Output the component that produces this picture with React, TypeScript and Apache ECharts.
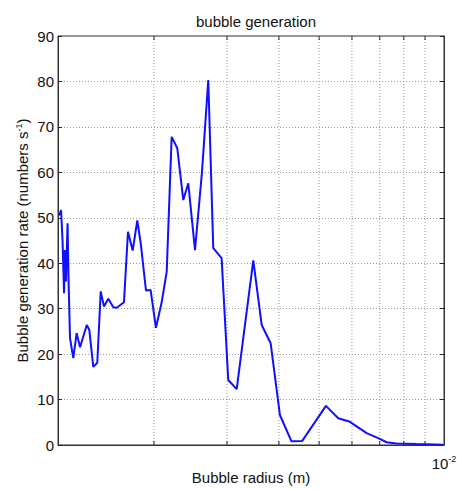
import React, { useEffect, useRef } from "react";
import * as echarts from "echarts";

// Bubble radius (m)
const radius = [
  0.001181, 0.001194, 0.001204, 0.001214, 0.00122, 0.001227, 0.001238, 0.001245,
  0.001255, 0.001278, 0.001302, 0.001327, 0.001377, 0.001397, 0.001428, 0.00146,
  0.001488, 0.001515, 0.001552, 0.001596, 0.001626, 0.001693, 0.001731, 0.001777,
  0.001823, 0.001858, 0.001913, 0.001963, 0.002022, 0.002087, 0.002146, 0.002206,
  0.002276, 0.002353, 0.002419, 0.002511, 0.00261, 0.002703, 0.002779, 0.002911,
  0.00302, 0.003165, 0.00347, 0.003636, 0.003821, 0.004023, 0.004289, 0.004553,
  0.005194, 0.00556, 0.005934, 0.006509, 0.006942, 0.007273, 0.007689, 0.00859,
  0.009956,
];
// Bubble generation rate (numbers s^-1)
const rate = [
  50.5, 51.7, 45, 33.4, 42.9, 36, 48.8, 36,
  23.5, 19.1, 24.6, 21.5, 26.4, 25.3, 17.2, 18.1,
  33.8, 30.5, 32.2, 30.3, 30.2, 31.4, 46.9, 42.8,
  49.4, 44.4, 34.0, 34.1, 25.8, 31.4, 38.1, 67.8,
  65.3, 53.9, 57.6, 42.9, 60, 80.3, 43.3, 41.1,
  14.3, 12.3, 40.6, 26.4, 22.4, 6.6, 0.8, 0.9,
  8.6, 5.9, 5.1, 2.6, 1.5, 0.6, 0.35, 0.2,
  0.05,
];
// x extent and minor log grid positions
const xMin = 0.001174;
const xMax = 0.01;
const xGrid = [0.002, 0.003, 0.004, 0.005, 0.006, 0.007, 0.008, 0.009];
const yMin = 0;
const yMax = 90;
const yStep = 10;

const FONT = "'Liberation Sans', Arial, Helvetica, sans-serif";

export default function App() {
  const ref = useRef<HTMLDivElement>(null);
  useEffect(() => {
    if (!ref.current) return;
    const chart = echarts.init(ref.current, null, { renderer: "svg" });
    chart.setOption({
      animation: false,
      backgroundColor: "#fff",
      textStyle: { fontFamily: FONT },
      title: {
        text: "bubble generation",
        left: 251,
        textAlign: "center",
        top: 9,
        textStyle: { fontSize: 15, fontWeight: "normal", color: "#111", fontFamily: FONT },
      },
      grid: {
        left: 58,
        right: 13,
        top: 36,
        bottom: 44,
        outerBoundsMode: "none",
        containLabel: false,
        show: true,
        borderColor: "#333",
        borderWidth: 1,
        backgroundColor: "transparent",
      },
      xAxis: {
        type: "log",
        logBase: 10,
        min: xMin,
        max: xMax,
        name: "Bubble radius (m)",
        nameLocation: "middle",
        nameGap: 25,
        nameMoveOverlap: false,
        nameTextStyle: { fontSize: 15, color: "#111", fontFamily: FONT },
        axisLine: { show: true, lineStyle: { color: "#333" } },
        axisTick: { show: false },
        splitLine: { show: false },
        axisLabel: {
          showMinLabel: false,
          margin: 9,
          color: "#111",
          fontFamily: FONT,
          formatter: (v: number) =>
            Math.abs(v - xMax) < 1e-9 ? "{b|10}{s|-2}" : "",
          rich: {
            b: { fontSize: 15, color: "#111", fontFamily: FONT },
            s: { fontSize: 9, color: "#111", fontFamily: FONT, padding: [0, 0, 9, 0] },
          },
        },
      },
      yAxis: [
        {
          type: "value",
          min: yMin,
          max: yMax,
          interval: yStep,
          name: "Bubble generation rate (numbers s{s|-1})",
          nameLocation: "middle",
          nameGap: 27,
          nameMoveOverlap: false,
          nameTextStyle: {
            fontSize: 15,
            color: "#111",
            fontFamily: FONT,
            rich: {
              s: { fontSize: 9, color: "#111", fontFamily: FONT, padding: [0, 0, 8, 0] },
            },
          },
          axisLine: { show: true, lineStyle: { color: "#333" } },
          axisTick: { show: true, inside: true, length: 4, lineStyle: { color: "#222" } },
          axisLabel: { fontSize: 15, color: "#111", margin: 4, fontFamily: FONT },
          splitLine: { show: true, lineStyle: { type: [1, 2], color: "#9a9a9a", width: 1 } },
        },
        {
          type: "value",
          position: "right",
          min: yMin,
          max: yMax,
          interval: yStep,
          axisLine: { show: true, lineStyle: { color: "#333" } },
          axisTick: { show: true, inside: true, length: 4, lineStyle: { color: "#222" } },
          axisLabel: { show: false },
          splitLine: { show: false },
        },
      ],
      series: [
        {
          type: "custom",
          silent: true,
          z: 1,
          data: xGrid.map((x) => [x, yMin]),
          encode: { x: 0, y: 1 },
          renderItem: (params: any, api: any) => {
            const x = api.value(0);
            const bot = api.coord([x, yMin]);
            const top = api.coord([x, yMax]);
            return {
              type: "group",
              children: [
                {
                  type: "line",
                  shape: { x1: bot[0], y1: bot[1], x2: top[0], y2: top[1] },
                  style: { stroke: "#9a9a9a", lineWidth: 1, lineDash: [1, 2] },
                },
                {
                  type: "line",
                  shape: { x1: bot[0], y1: bot[1], x2: bot[0], y2: bot[1] - 4 },
                  style: { stroke: "#222", lineWidth: 1 },
                },
                {
                  type: "line",
                  shape: { x1: top[0], y1: top[1], x2: top[0], y2: top[1] + 4 },
                  style: { stroke: "#222", lineWidth: 1 },
                },
              ],
            };
          },
        },
        {
          type: "line",
          data: radius.map((r, i) => [r, rate[i]]),
          showSymbol: false,
          symbol: "none",
          lineStyle: { color: "#1010ff", width: 2 },
          z: 5,
        },
      ],
    });
    return () => chart.dispose();
  }, []);
  return (
    <div
      ref={ref}
      style={{ position: "fixed", left: 0, top: 0, width: 457, height: 489 }}
    />
  );
}
